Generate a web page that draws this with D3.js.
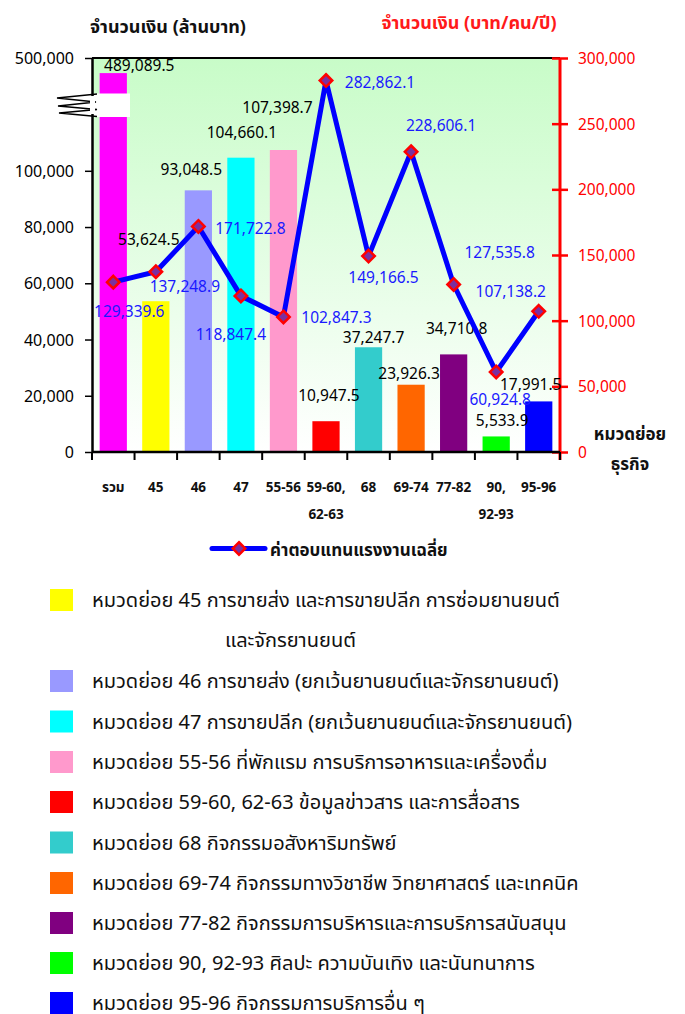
<!DOCTYPE html>
<html>
<head>
<meta charset="utf-8">
<script src="https://cdn.jsdelivr.net/npm/d3@7"></script>
<style>
  body { margin: 0; background: #fff; }
  svg { font-family: Tahoma, "Noto Sans Thai", "DejaVu Sans", sans-serif; }
</style>
</head>
<body>
<svg id="chart" width="685" height="1014"></svg>
<script>
// categories (หมวดย่อย) and values
const categories = ["รวม", "45", "46", "47", "55-56", "59-60, 62-63", "68", "69-74", "77-82", "90, 92-93", "95-96"];
const amount = [489089.5, 53624.5, 93048.5, 104660.1, 107398.7, 10947.5, 37247.7, 23926.3, 34710.8, 5533.9, 17991.5]; // ล้านบาท
const wage = [129339.6, 137248.9, 171722.8, 118847.4, 102847.3, 282862.1, 149166.5, 228606.1, 127535.8, 60924.8, 107138.2]; // บาท/คน/ปี
const barColors = ["#ff00ff", "#ffff00", "#9999ff", "#00ffff", "#ff99cc", "#ff0000", "#33cccc", "#ff6600", "#800080", "#00ff00", "#0000ff"];
const leftTicks = [0, 20000, 40000, 60000, 80000, 100000, 500000];
const rightTicks = [0, 50000, 100000, 150000, 200000, 250000, 300000];
const legendLabels = [
  ["หมวดย่อย 45 การขายส่ง และการขายปลีก การซ่อมยานยนต์", "และจักรยานยนต์"],
  ["หมวดย่อย 46 การขายส่ง (ยกเว้นยานยนต์และจักรยานยนต์)"],
  ["หมวดย่อย 47 การขายปลีก (ยกเว้นยานยนต์และจักรยานยนต์)"],
  ["หมวดย่อย 55-56 ที่พักแรม การบริการอาหารและเครื่องดื่ม"],
  ["หมวดย่อย 59-60, 62-63 ข้อมูลข่าวสาร และการสื่อสาร"],
  ["หมวดย่อย 68 กิจกรรมอสังหาริมทรัพย์"],
  ["หมวดย่อย 69-74 กิจกรรมทางวิชาชีพ วิทยาศาสตร์ และเทคนิค"],
  ["หมวดย่อย 77-82 กิจกรรมการบริหารและการบริการสนับสนุน"],
  ["หมวดย่อย 90, 92-93 ศิลปะ ความบันเทิง และนันทนาการ"],
  ["หมวดย่อย 95-96 กิจกรรมการบริการอื่น ๆ"]
];
const lineName = "ค่าตอบแทนแรงงานเฉลี่ย";

// manual label nudges (like the hand placed labels of the original)
const barLabelShift = [[26, -2], [-7, -56], [-7, -15], [1, -20], [-6, -37], [3, -20], [5, -4], [-2, -6], [3, -20], [6, -10], [-8, -11]];
const lineLabelShift = [[16, 35], [29, 20], [52, 8], [-10, 44], [53, 6], [54, 7], [15, 27], [30, -21], [46, -27], [4, 33], [-28, -14]];

const svg = d3.select("#chart");
const plot = {left: 92, right: 560, top: 58, bottom: 452};

const x = d3.scaleBand().domain(categories)
  .range([plot.left, plot.right]).paddingInner(0.36).paddingOuter(0.18);
// broken left axis: 0-120,000 linear, then jump up to 500,000
const yL = d3.scaleLinear()
  .domain([0, 120000, 474000, 500000])
  .range([plot.bottom, plot.bottom - 120000 * 0.002812, 94, plot.top]);
const yR = d3.scaleLinear().domain([0, 300000]).range([plot.bottom, plot.top]);
const fmt = d3.format(",.1f");

// background gradient
const grad = svg.append("defs").append("linearGradient")
  .attr("id", "bg").attr("x1", 0).attr("y1", 0).attr("x2", 0).attr("y2", 1);
grad.append("stop").attr("offset", "0%").attr("stop-color", "#c8fcc8");
grad.append("stop").attr("offset", "100%").attr("stop-color", "#ffffff");
svg.append("rect")
  .attr("x", plot.left).attr("y", plot.top)
  .attr("width", plot.right - plot.left).attr("height", plot.bottom - plot.top)
  .attr("fill", "url(#bg)");

// bars
svg.append("g").selectAll("rect")
  .data(amount)
  .join("rect")
  .attr("x", (d, i) => x(categories[i]))
  .attr("y", d => yL(d))
  .attr("width", x.bandwidth())
  .attr("height", d => plot.bottom - yL(d))
  .attr("fill", (d, i) => barColors[i]);

// axis break
svg.append("rect").attr("x", 89).attr("y", 93.5).attr("width", 41).attr("height", 23.5).attr("fill", "#fff");
svg.append("path")
  .attr("d", "M97,94 L57,98 L96,102 L58,106 L97,109.5 L59,113 L97,116.5")
  .attr("fill", "none").attr("stroke", "#000").attr("stroke-width", 1.3);

// top border
svg.append("line").attr("x1", plot.left).attr("x2", plot.right)
  .attr("y1", plot.top).attr("y2", plot.top).attr("stroke", "#000").attr("stroke-width", 2);

// left axis
const gL = svg.append("g").attr("transform", `translate(${plot.left},0)`)
  .call(d3.axisLeft(yL).tickValues(leftTicks).tickFormat(d3.format(",")).tickSize(7).tickSizeOuter(0))
  .call(g => g.selectAll("text").attr("font-size", 16).attr("fill", "#000").attr("dx", -8).attr("dy", "0.35em"))
  .call(g => g.select(".domain").attr("stroke-width", 2.5));
gL.attr("font-family", null);
gL.selectAll(".tick line").attr("stroke-width", 1.5);
// cover the axis line inside the break
svg.append("rect").attr("x", 90).attr("y", 96).attr("width", 5).attr("height", 18).attr("fill", "#fff");

// right axis
const gR = svg.append("g").attr("transform", `translate(${plot.right},0)`)
  .call(d3.axisRight(yR).tickValues(rightTicks).tickFormat(d3.format(",")).tickSize(8).tickSizeOuter(0))
  .attr("font-family", null);
gR.select(".domain").attr("stroke", "#ff0000").attr("stroke-width", 3).attr("d", `M0,${plot.top}V${plot.bottom + 8}`);
gR.selectAll(".tick line").attr("stroke", "#ff0000").attr("stroke-width", 2.5).attr("x1", -8);
gR.selectAll(".tick text").attr("fill", "#ff0000").attr("font-size", 15.5).attr("x", 18).attr("dy", "0.35em");

// x axis
svg.append("line").attr("x1", plot.left).attr("x2", plot.right)
  .attr("y1", plot.bottom).attr("y2", plot.bottom).attr("stroke", "#000").attr("stroke-width", 2.5);
svg.append("g").selectAll("line")
  .data(d3.range(categories.length + 1))
  .join("line")
  .attr("x1", i => plot.left + i * x.step()).attr("x2", i => plot.left + i * x.step())
  .attr("y1", plot.bottom).attr("y2", plot.bottom + 8)
  .attr("stroke", "#000").attr("stroke-width", 2);
const xl = svg.append("g").selectAll("text")
  .data(categories)
  .join("text")
  .attr("x", d => x(d) + x.bandwidth() / 2)
  .attr("y", 491.5)
  .attr("text-anchor", "middle")
  .attr("font-size", 13.5)
  .attr("font-weight", "bold")
  .attr("fill", "#111");
xl.each(function (d) {
  const parts = d.split(", ");
  parts.forEach((p, k) => {
    d3.select(this).append("tspan")
      .attr("x", x(d) + x.bandwidth() / 2)
      .attr("dy", k === 0 ? 0 : 27.5)
      .text(k < parts.length - 1 ? p + "," : p);
  });
});

// bar value labels
svg.append("g").selectAll("text")
  .data(amount)
  .join("text")
  .attr("x", (d, i) => x(categories[i]) + x.bandwidth() / 2 + barLabelShift[i][0])
  .attr("y", (d, i) => yL(d) + barLabelShift[i][1])
  .attr("text-anchor", "middle")
  .attr("font-size", 15.5)
  .attr("fill", "#000")
  .text(d => fmt(d));

// wage line
const pts = wage.map((v, i) => [x(categories[i]) + x.bandwidth() / 2, yR(v)]);
svg.append("path")
  .attr("d", d3.line()(pts))
  .attr("fill", "none").attr("stroke", "#0000ff").attr("stroke-width", 5).attr("stroke-linejoin", "round");
const diamond = d3.symbol(d3.symbolDiamond2, 100);
svg.append("g").selectAll("path")
  .data(pts)
  .join("path")
  .attr("transform", d => `translate(${d[0]},${d[1]})`)
  .attr("d", diamond)
  .attr("fill", "#7b2fa0").attr("stroke", "#ff0000").attr("stroke-width", 2.5);
svg.append("g").selectAll("text")
  .data(wage)
  .join("text")
  .attr("x", (d, i) => pts[i][0] + lineLabelShift[i][0])
  .attr("y", (d, i) => pts[i][1] + lineLabelShift[i][1])
  .attr("text-anchor", "middle")
  .attr("font-size", 15.5)
  .attr("fill", "#1a1aff")
  .text(d => fmt(d));

// titles
svg.append("text").attr("x", 168).attr("y", 33).attr("text-anchor", "middle")
  .attr("font-size", 18).attr("font-weight", "bold").attr("fill", "#111").text("จำนวนเงิน (ล้านบาท)");
svg.append("text").attr("x", 469).attr("y", 29).attr("text-anchor", "middle")
  .attr("font-size", 18).attr("font-weight", "bold").attr("fill", "#ff1a1a").text("จำนวนเงิน (บาท/คน/ปี)");
svg.append("text").attr("x", 630).attr("y", 440).attr("text-anchor", "middle")
  .attr("font-size", 17).attr("font-weight", "bold").attr("fill", "#111").text("หมวดย่อย");
svg.append("text").attr("x", 630).attr("y", 470).attr("text-anchor", "middle")
  .attr("font-size", 17).attr("font-weight", "bold").attr("fill", "#111").text("ธุรกิจ");

// line legend
svg.append("line").attr("x1", 212).attr("x2", 265).attr("y1", 548.5).attr("y2", 548.5)
  .attr("stroke", "#0000ff").attr("stroke-width", 5).attr("stroke-linecap", "round");
svg.append("path").attr("transform", "translate(239,548.5)").attr("d", diamond)
  .attr("fill", "#7b2fa0").attr("stroke", "#ff0000").attr("stroke-width", 2.5);
svg.append("text").attr("x", 270).attr("y", 556).attr("font-size", 17).attr("font-weight", "bold")
  .attr("fill", "#111").text(lineName);

// bar legend
const rowTops = [589, 670, 710.5, 751, 791, 831.5, 872, 912, 952, 992];
const lg = svg.append("g").selectAll("g")
  .data(legendLabels)
  .join("g")
  .attr("transform", (d, i) => `translate(50,${rowTops[i]})`);
lg.append("rect").attr("width", 23).attr("height", 22).attr("fill", (d, i) => barColors[i + 1]);
lg.each(function (d) {
  d.forEach((t, k) => {
    d3.select(this).append("text")
      .attr("x", k === 0 ? 42 : 175)
      .attr("y", 18 + k * 39.5)
      .attr("font-size", 20)
      .attr("fill", "#111")
      .text(t);
  });
});
</script>
</body>
</html>
